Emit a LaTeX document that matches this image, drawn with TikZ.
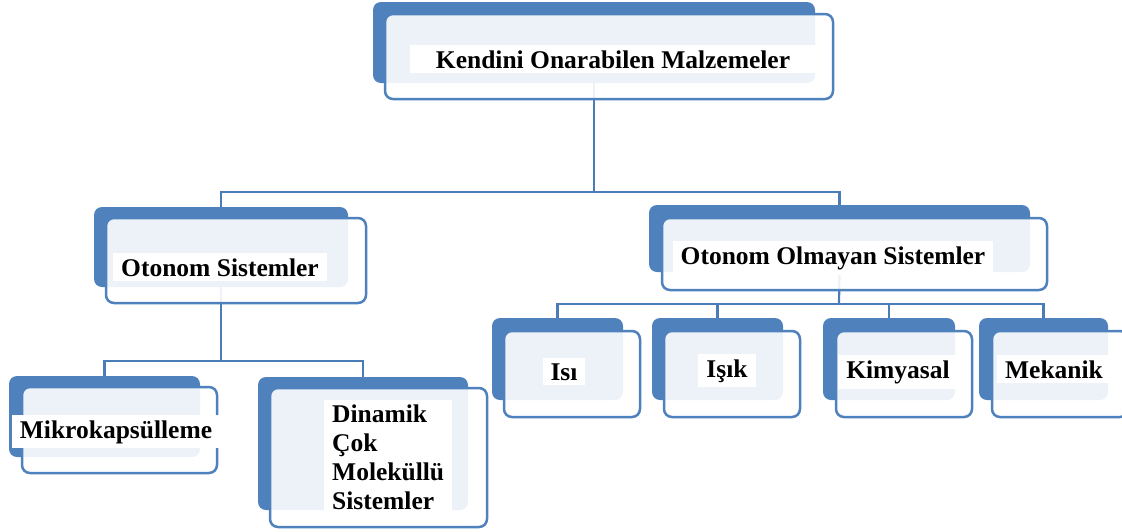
\documentclass[tikz,border=0pt]{standalone}
\usepackage{fontspec}
\setmainfont{Liberation Serif}
\usetikzlibrary{fit}
\definecolor{boxblue}{HTML}{4F81BD}
\definecolor{linkblue}{HTML}{4A7CB8}
\tikzset{
    backbox/.style = {rectangle, rounded corners=8pt, draw=none, fill=boxblue, inner sep=0pt},
    frontbox/.style = {rectangle, rounded corners=8pt, draw=boxblue, line width=2.5pt, fill=white, fill opacity=0.9, inner sep=0pt},
    lbl/.style = {fill=white, inner xsep=8pt, inner ysep=5pt, font=\fontsize{25.5}{29}\selectfont\bfseries},
    link/.style = {draw=linkblue, line width=2.2pt}
}
\begin{document}
\begin{tikzpicture}[x=1pt,y=-1pt]
\useasboundingbox (0,0) rectangle (1122,531);
%
% back boxes
\node[backbox, fit={(373,2) (815,83)}] (topb) {};
\node[backbox, fit={(94,207) (348,287)}] (otb) {};
\node[backbox, fit={(649,205) (1030,272)}] (oob) {};
\node[backbox, fit={(9,376) (200,457)}] (mkb) {};
\node[backbox, fit={(258,377) (468,510)}] (dnb) {};
\node[backbox, fit={(492,318) (623,400)}] (isb) {};
\node[backbox, fit={(652,318) (783,400)}] (ikb) {};
\node[backbox, fit={(823,318) (955,400)}] (kmb) {};
\node[backbox, fit={(979,318) (1108,400)}] (mnb) {};
%
% connectors
\coordinate (j1) at (594,192);
\coordinate (j2) at (221,361);
\coordinate (j3) at (839,304);
\draw[link] (topb.south) -- (j1);
\draw[link] (otb.north) |- (j1) -| (oob.north);
\draw[link] (otb.south) -- (j2);
\draw[link] (mkb.north) |- (j2) -| (dnb.north);
\draw[link] (oob.south) -- (j3);
\draw[link] (isb.north) |- (j3) -| (mnb.north);
\draw[link] (ikb.north) -- (ikb.north |- j3);
\draw[link] (kmb.north) -- (kmb.north |- j3);
%
% front boxes
\node[frontbox, fit={(385,14) (833,99)}] (topf) {};
\node[frontbox, fit={(106,218) (366,303)}] (otf) {};
\node[frontbox, fit={(662,218) (1047,290)}] (oof) {};
\node[frontbox, fit={(22,387) (217,473)}] (mkf) {};
\node[frontbox, fit={(270,388) (487,527)}] (dnf) {};
\node[frontbox, fit={(504,331) (640,417)}] (isf) {};
\node[frontbox, fit={(664,331) (800,417)}] (ikf) {};
\node[frontbox, fit={(836,331) (972,417)}] (kmf) {};
\node[frontbox, fit={(992,331) (1128,417)}] (mnf) {};
%
% labels
\node[lbl, anchor=base, inner xsep=26pt] (topt) at (613,68) {Kendini Onarabilen Malzemeler};
\node[lbl, anchor=base] (ott) at (220,276) {Otonom Sistemler};
\node[lbl, anchor=base] (oot) at (833,264) {Otonom Olmayan Sistemler};
\node[lbl, anchor=base] (mkt) at (116,438) {Mikrokapsülleme};
\node[lbl, anchor=west, align=left] (dnt) at (324,457) {Dinamik\\Çok\\Moleküllü\\Sistemler};
\node[lbl, anchor=base] (ist) at (564,380) {Isı};
\node[lbl, anchor=base] (ikt) at (727,377) {Işık};
\node[lbl, anchor=base] (kmt) at (898,378) {Kimyasal};
\node[lbl, anchor=base] (mnt) at (1054,378) {Mekanik};
\end{tikzpicture}
\end{document}
